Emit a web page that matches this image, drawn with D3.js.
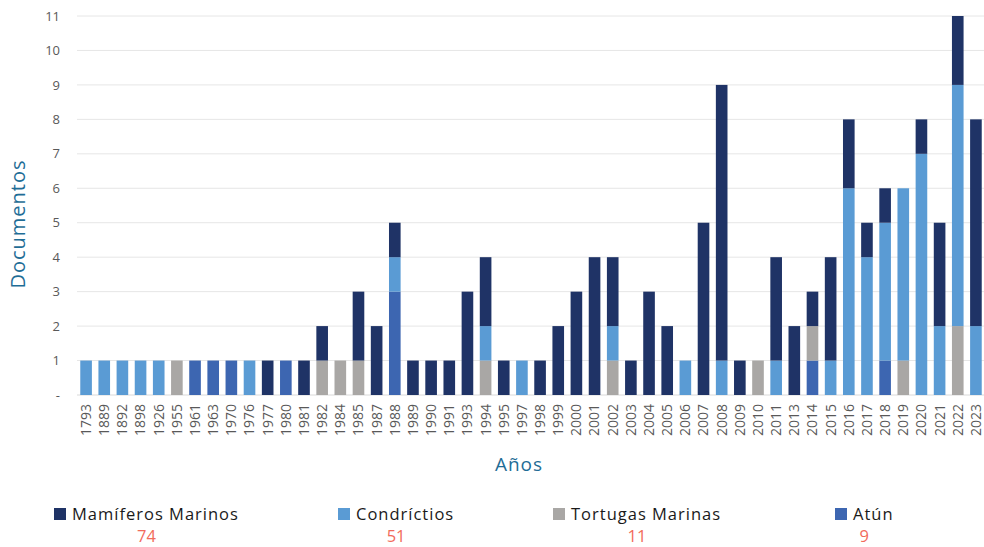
<!DOCTYPE html>
<meta charset="utf-8">
<style>
  body { margin: 0; background: #fff; }
  text { font-family: "Open Sans", Lato, sans-serif; }
</style>
<svg width="984" height="547"></svg>
<script src="https://cdnjs.cloudflare.com/ajax/libs/d3/7.8.5/d3.min.js"></script>
<script>
var years = ['1793','1889','1892','1898','1926','1955','1961','1963','1970','1976','1977','1980','1981','1982','1984','1985','1987','1988','1989','1990','1991','1993','1994','1995','1997','1998','1999','2000','2001','2002','2003','2004','2005','2006','2007','2008','2009','2010','2011','2013','2014','2015','2016','2017','2018','2019','2020','2021','2022','2023']

// stacked bottom -> top: Atún, Tortugas, Condrictios, Mamíferos
var atun      = [0,0,0,0,0,0,1,1,1,0,0,1,0,0,0,0,0,3,0,0,0,0,0,0,0,0,0,0,0,0,0,0,0,0,0,0,0,0,0,0,1,0,0,0,1,0,0,0,0,0]
var tortugas  = [0,0,0,0,0,1,0,0,0,0,0,0,0,1,1,1,0,0,0,0,0,0,1,0,0,0,0,0,0,1,0,0,0,0,0,0,0,1,0,0,1,0,0,0,0,1,0,0,2,0]
var condric   = [1,1,1,1,1,0,0,0,0,1,0,0,0,0,0,0,0,1,0,0,0,0,1,0,1,0,0,0,0,1,0,0,0,1,0,1,0,0,1,0,0,1,6,4,4,5,7,2,7,2]
var mamiferos = [0,0,0,0,0,0,0,0,0,0,1,0,1,1,0,2,2,1,1,1,1,3,2,1,0,1,2,3,4,2,1,3,2,0,5,8,1,0,3,2,1,3,2,1,1,0,1,3,2,6]

var yTicks = [0,1,2,3,4,5,6,7,8,9,10,11]
var seriesKeys = ['atun','tortugas','condric','mamiferos']
var seriesColor = { atun: '#3d66b1', tortugas: '#a9a7a5', condric: '#5a9bd4', mamiferos: '#1f3366' }

var legendItems = [
  { key: 'mamiferos', label: 'Mamíferos Marinos', total: 74, x: 54 },
  { key: 'condric', label: 'Condríctios', total: 51, x: 338 },
  { key: 'tortugas', label: 'Tortugas Marinas', total: 11, x: 553 },
  { key: 'atun', label: 'Atún', total: 9, x: 835 }
]

var rows = years.map(function (y, i) {
  return { year: y, atun: atun[i], tortugas: tortugas[i], condric: condric[i], mamiferos: mamiferos[i] }
})

var svg = d3.select('svg')
var plotLeft = 77, plotRight = 985, plotTop = 16, plotBottom = 395

var x = d3.scaleBand().domain(years).range([plotLeft, plotRight]).paddingInner(0.36).paddingOuter(0.18)
var y = d3.scaleLinear().domain([0, 11]).range([plotBottom, plotTop])

// gridlines
svg.append('g')
  .selectAll('line')
  .data(yTicks)
  .enter().append('line')
  .attr('x1', plotLeft).attr('x2', plotRight)
  .attr('y1', function (d) { return y(d) }).attr('y2', function (d) { return y(d) })
  .attr('stroke', function (d) { return d === 0 ? '#d9d9d9' : '#e6e6e6' })
  .attr('stroke-width', 1)

// y axis labels
var yAxis = d3.axisLeft(y).tickValues(yTicks).tickSize(0).tickPadding(0)
  .tickFormat(function (d) { return d === 0 ? '-' : d })
svg.append('g')
  .attr('transform', 'translate(60,0)')
  .call(yAxis)
  .call(function (g) { g.select('.domain').remove() })
  .selectAll('text')
  .attr('font-size', 13)
  .attr('fill', '#595959')
  .style('font-family', '"Open Sans", Lato, sans-serif')

// stacked bars
var stack = d3.stack().keys(seriesKeys)
var layers = stack(rows)

svg.append('g')
  .selectAll('g')
  .data(layers)
  .enter().append('g')
  .attr('fill', function (d) { return seriesColor[d.key] })
  .selectAll('rect')
  .data(function (d) { return d.filter(function (s) { return s[1] > s[0] }) })
  .enter().append('rect')
  .attr('x', function (d) { return x(d.data.year) })
  .attr('width', x.bandwidth())
  .attr('y', function (d) { return y(d[1]) })
  .attr('height', function (d) { return y(d[0]) - y(d[1]) })

// x axis labels
var xAxis = d3.axisBottom(x).tickSize(0).tickPadding(0)
svg.append('g')
  .attr('transform', 'translate(0,' + plotBottom + ')')
  .call(xAxis)
  .call(function (g) { g.select('.domain').remove() })
  .selectAll('text')
  .attr('font-size', 14)
  .attr('fill', '#595959')
  .attr('text-anchor', 'end')
  .attr('transform', 'rotate(-90)')
  .attr('x', -9)
  .attr('y', 0)
  .attr('dy', '0.35em')
  .style('font-family', '"Open Sans", Lato, sans-serif')

// axis titles
svg.append('text')
  .attr('transform', 'translate(25,224) rotate(-90)')
  .attr('text-anchor', 'middle')
  .attr('font-size', 20)
  .attr('letter-spacing', 1)
  .attr('fill', '#1f6d96')
  .text('Documentos')

svg.append('text')
  .attr('x', 519).attr('y', 471)
  .attr('text-anchor', 'middle')
  .attr('font-size', 19)
  .attr('letter-spacing', 1)
  .attr('fill', '#1f6d96')
  .text('Años')

// legend
var leg = svg.append('g')
  .selectAll('g')
  .data(legendItems)
  .enter().append('g')
  .attr('transform', function (d) { return 'translate(' + d.x + ',0)' })

leg.append('rect')
  .attr('x', 0).attr('y', 508).attr('width', 12).attr('height', 12)
  .attr('fill', function (d) { return seriesColor[d.key] })

var labels = leg.append('text')
  .attr('x', 18).attr('y', 519.5)
  .attr('font-size', 16.5)
  .attr('letter-spacing', 1)
  .attr('fill', '#1a1a1a')
  .text(function (d) { return d.label })

leg.append('text')
  .attr('x', function (d, i) {
    var w = labels.nodes()[i].getComputedTextLength()
    return (18 + w) / 2
  })
  .attr('y', 542)
  .attr('text-anchor', 'middle')
  .attr('font-size', 16.5)
  .attr('fill', '#f26b5b')
  .text(function (d) { return d.total })
</script>
